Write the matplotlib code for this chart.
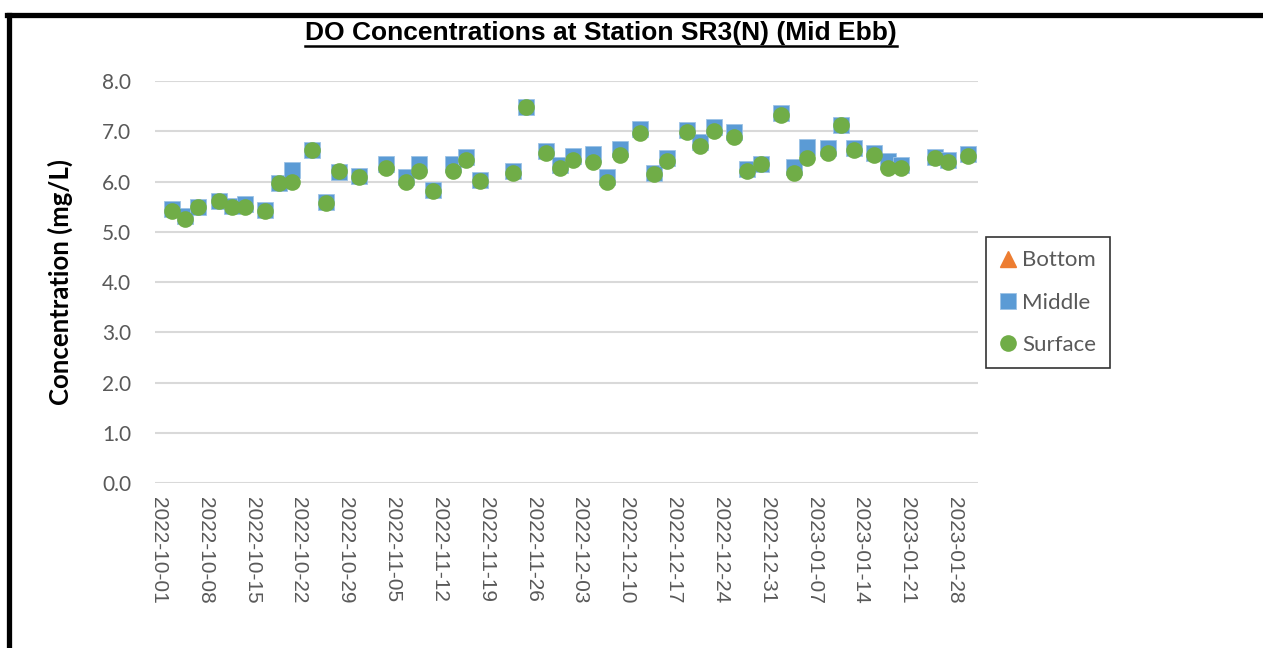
#import relevant libaries
import pandas as pd
import numpy as np
import matplotlib.pyplot as plt
import matplotlib.dates as mdates
import matplotlib.transforms as mtransforms
from matplotlib.lines import Line2D

#sampling dates
dates = ['2022-10-03', '2022-10-05', '2022-10-07', '2022-10-10', '2022-10-12', '2022-10-14',
         '2022-10-17', '2022-10-19', '2022-10-21', '2022-10-24', '2022-10-26', '2022-10-28',
         '2022-10-31', '2022-11-04', '2022-11-07', '2022-11-09', '2022-11-11', '2022-11-14',
         '2022-11-16', '2022-11-18', '2022-11-23', '2022-11-25', '2022-11-28', '2022-11-30',
         '2022-12-02', '2022-12-05', '2022-12-07', '2022-12-09', '2022-12-12', '2022-12-14',
         '2022-12-16', '2022-12-19', '2022-12-21', '2022-12-23', '2022-12-26', '2022-12-28',
         '2022-12-30', '2023-01-02', '2023-01-04', '2023-01-06', '2023-01-09', '2023-01-11',
         '2023-01-13', '2023-01-16', '2023-01-18', '2023-01-20', '2023-01-25', '2023-01-27',
         '2023-01-30']

#DO values (mg/L)
middle_do = [5.46, 5.32, 5.50, 5.62, 5.52, 5.55, 5.43, 5.97, 6.22, 6.62, 5.59, 6.18,
             6.10, 6.34, 6.09, 6.34, 5.84, 6.34, 6.48, 6.03, 6.21, 7.49, 6.60, 6.32,
             6.50, 6.55, 6.09, 6.65, 7.05, 6.17, 6.47, 7.03, 6.79, 7.09, 6.98, 6.25,
             6.34, 7.36, 6.28, 6.68, 6.66, 7.13, 6.67, 6.56, 6.40, 6.32, 6.48, 6.43,
             6.54]
surface_do = [5.42, 5.26, 5.49, 5.61, 5.50, 5.50, 5.42, 5.97, 5.99, 6.63, 5.58, 6.21,
              6.09, 6.27, 5.99, 6.21, 5.82, 6.21, 6.42, 6.01, 6.17, 7.48, 6.56, 6.27,
              6.43, 6.38, 5.99, 6.52, 6.96, 6.14, 6.40, 6.98, 6.70, 7.00, 6.88, 6.21,
              6.34, 7.33, 6.17, 6.47, 6.56, 7.13, 6.62, 6.52, 6.26, 6.27, 6.47, 6.38,
              6.50]
bottom_do = []

#axis settings
y_ticks = [0, 1, 2, 3, 4, 5, 6, 7, 8]
x_start = '2022-10-01'
x_end = '2023-02-01'

do_df = pd.DataFrame({'Middle': middle_do, 'Surface': surface_do}, index=pd.to_datetime(dates))
bottom_dates = pd.to_datetime(dates[:len(bottom_do)])

#create figure
fig = plt.figure(figsize=(12.63, 6.48), dpi=100)
ax = fig.add_axes([0.1227, 0.2546, 0.6517, 0.6204])

calibri = ['Lato', 'DejaVu Sans']
grey = '#595959'

#plot the series
ax.plot(bottom_dates, bottom_do, linestyle='none', marker='^', markersize=12,
        color='#ED7D31', label='Bottom')
ax.plot(do_df.index, do_df['Middle'], linestyle='none', marker='s', markersize=11.5,
        color='#5B9BD5', markeredgecolor='#9DC3E6', markeredgewidth=0.6, label='Middle', zorder=3)
ax.plot(do_df.index, do_df['Surface'], linestyle='none', marker='o', markersize=12,
        color='#70AD47', markeredgewidth=0, label='Surface', zorder=4)

#axes style
ax.set_ylim(0, 8)
ax.set_yticks(y_ticks)
ax.set_yticklabels(['%.1f' % v for v in y_ticks], fontsize=15, color=grey, family=calibri)
# half a day offset so the points sit like in the excel chart
ax.set_xlim(pd.Timestamp(x_start) - pd.Timedelta(hours=12), pd.Timestamp(x_end) - pd.Timedelta(hours=12))
ax.set_xticks(pd.date_range(x_start, x_end, freq='7D'))
ax.xaxis.set_major_formatter(mdates.DateFormatter('%Y-%m-%d'))
shift = mtransforms.ScaledTranslation(-2 / 100, 0, fig.dpi_scale_trans)
for lab in ax.get_xticklabels():
    lab.set_rotation(270)
    lab.set_fontsize(15)
    lab.set_color(grey)
    lab.set_family('Liberation Sans')
    lab.set_va('top')
    lab.set_ha('center')
    lab.set_transform(lab.get_transform() + shift)
ax.tick_params(axis='both', length=0)
ax.tick_params(axis='y', pad=17)
ax.tick_params(axis='x', pad=10)
ax.grid(axis='y', color='#D9D9D9', linewidth=1.5)
ax.set_axisbelow(True)
for side in ['top', 'right', 'left', 'bottom']:
    ax.spines[side].set_visible(False)

ax.set_ylabel('Concentration (mg/L)', fontsize=18.5, fontweight='bold', family=calibri, labelpad=21)

#title with underline
title = fig.text(0.476, 0.949, 'DO Concentrations at Station SR3(N) (Mid Ebb)', fontsize=19,
                 fontweight='bold', family='Liberation Sans', ha='center', va='center')
fig.canvas.draw()
bb = title.get_window_extent().transformed(fig.transFigure.inverted())
fig.add_artist(Line2D([bb.x0, bb.x1], [bb.y0 - 0.001, bb.y0 - 0.001], color='black', linewidth=1.8))

#legend
leg = ax.legend(loc='center', bbox_to_anchor=(0.8295, 0.533), bbox_transform=fig.transFigure,
                frameon=True, fancybox=False, edgecolor='black', borderpad=0.6,
                labelspacing=1.0, handlelength=0.8, handletextpad=0.25, prop={'family': calibri, 'size': 16})
leg.get_frame().set_linewidth(1.2)
for t in leg.get_texts():
    t.set_color(grey)

#black border round the chart
fig.add_artist(Line2D([0.0075, 0.0075], [0.0, 0.977], color='black', linewidth=3.8))
fig.add_artist(Line2D([0.0055, 1.0], [0.9765, 0.9765], color='black', linewidth=3.8))

plt.savefig('out.png', dpi=100)
